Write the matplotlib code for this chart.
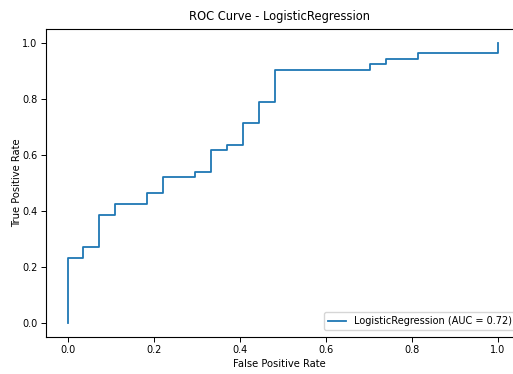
import numpy as np
import matplotlib
matplotlib.use("Agg")
import matplotlib.pyplot as plt

# ROC points (27 negatives, 52 positives)
n_neg = 27
n_pos = 52
fp_counts = [0, 0, 1, 1, 2, 2, 3, 3, 5, 5, 6, 6, 8, 8, 9, 9,
             10, 10, 11, 11, 12, 12, 13, 13, 19, 19, 20, 20, 22, 22, 27, 27]
tp_counts = [0, 12, 12, 14, 14, 20, 20, 22, 22, 24, 24, 27, 27, 28, 28, 32,
             32, 33, 33, 37, 37, 41, 41, 47, 47, 48, 48, 49, 49, 50, 50, 52]
model_name = "LogisticRegression"

fpr = np.array(fp_counts) / n_neg
tpr = np.array(tp_counts) / n_pos
auc = np.trapezoid(tpr, fpr)

plt.rcParams["font.family"] = "DejaVu Sans"

fig = plt.figure(figsize=(5.13, 3.74), dpi=100)
# the original picture is cut on the right side, so the axes end at the
# image edge with no right border and the legend box runs out of view
ax = fig.add_axes([46 / 513, (374 - 336.7) / 374, 467 / 513, 308 / 374])
ax.plot(fpr, tpr, color="#1f77b4", lw=1.3,
        label=f"{model_name} (AUC = {auc:.2f})")
ax.set_xlim(-0.05, 1.035)
ax.set_ylim(-0.05, 1.05)
ax.set_xticks([0.0, 0.2, 0.4, 0.6, 0.8, 1.0])
ax.set_yticks([0.0, 0.2, 0.4, 0.6, 0.8, 1.0])
ax.tick_params(labelsize=7, length=3.5, width=0.7, pad=2.5)
for s in ax.spines.values():
    s.set_linewidth(0.8)
ax.spines["right"].set_visible(False)
ax.set_xlabel("False Positive Rate", fontsize=7.2, labelpad=3)
ax.set_ylabel("True Positive Rate", fontsize=7.2, labelpad=0.5)
ax.set_title(f"ROC Curve - {model_name}", fontsize=8.3, pad=6)
ax.legend(loc="lower right", fontsize=7, bbox_to_anchor=(1.006, 0.022),
          borderaxespad=0, handlelength=1.9)

fig.savefig("out.png", dpi=100)
